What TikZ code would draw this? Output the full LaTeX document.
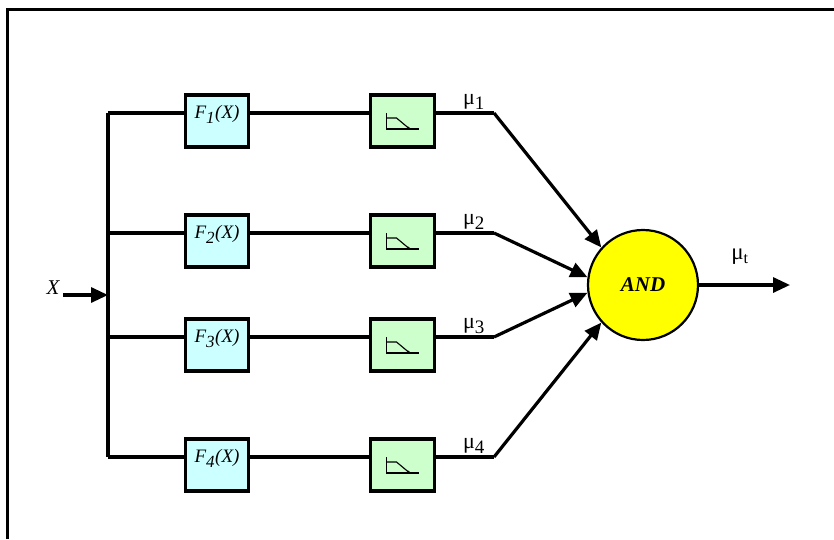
\documentclass[tikz,border=0pt]{standalone}
\usepackage{fontspec}
\setmainfont{Liberation Serif}
\usetikzlibrary{arrows.meta}
\definecolor{fcyan}{HTML}{CCFFFF}
\definecolor{fgreen}{HTML}{CCFFCC}
\definecolor{fyellow}{HTML}{FFFF00}
\tikzset{
  wire/.style={line width=3.2pt},
  arr/.style={wire,-{Triangle[length=17pt,width=15pt]}},
  fbox/.style={draw,line width=3.2pt,fill=fcyan,minimum width=63pt,minimum height=52pt,inner sep=0pt,
    font=\fontsize{19}{19}\selectfont\itshape,text height=9pt,text depth=15pt},
  gbox/.style={draw,line width=3.2pt,fill=fgreen,minimum width=64pt,minimum height=52pt,inner sep=0pt},
  mulab/.style={font=\fontsize{22}{22}\selectfont,inner sep=1pt,anchor=south},
  icon/.style={line width=1.1pt},
}
\begin{document}
\begin{tikzpicture}[x=1pt,y=-1pt]
\useasboundingbox (0,0) rectangle (834,539);
% frame
\draw[line width=3.2pt] (7.5,539) -- (7.5,9.5) -- (834,9.5);
% input
\node[font=\fontsize{21}{21}\selectfont\itshape,inner sep=0pt] (xlab) at (53,288) {X};
\coordinate (xin) at (63,295);
\coordinate (bus) at (108,295);
\draw[arr] (xin) -- (bus);
\coordinate (b1) at (108,113);
\coordinate (b4) at (108,457);
\draw[wire] (b1) -- (b4);
\node[circle,draw,line width=2.2pt,fill=fyellow,minimum size=110pt,inner sep=0pt,
  font=\fontsize{21}{21}\selectfont\bfseries\itshape] (and) at (643,285) {AND};
\foreach \i/\y/\ang in {1/113/138,2/233/172,3/337/188,4/457/222}{
  \coordinate (b\i) at (108,\y);
  \node[fbox] (f\i) at (217,\y+8) {F\textsubscript{\fontsize{17}{17}\selectfont\i}(X)};
  \node[gbox] (g\i) at (402.5,\y+8) {};
  \coordinate (k\i) at (494,\y);
  \draw[wire] (b\i) -- (b\i -| f\i.west);
  \draw[wire] (f\i.east |- b\i) -- (g\i.west |- b\i);
  \draw[wire] (g\i.east |- b\i) -- (k\i);
  \draw[arr] (k\i) -- (and.\ang);
  \node[mulab] (m\i) at (474,\y-2) {μ\textsubscript{\fontsize{19}{19}\selectfont\i}};
  \begin{scope}[shift={(g\i.center)}]
    \draw[icon] (-16,-8) -- (-16,8) -- (16,8);
    \draw[icon] (-16,-3) -- (-6,-3) -- (6,7);
    \fill (6,7) circle (1.3pt);
  \end{scope}
}
\coordinate (out) at (790,285);
\draw[arr] (and.east) -- (out);
\node[font=\fontsize{23}{23}\selectfont,inner sep=0pt] (mut) at (740,257) {μ\textsubscript{t}};
\end{tikzpicture}
\end{document}
